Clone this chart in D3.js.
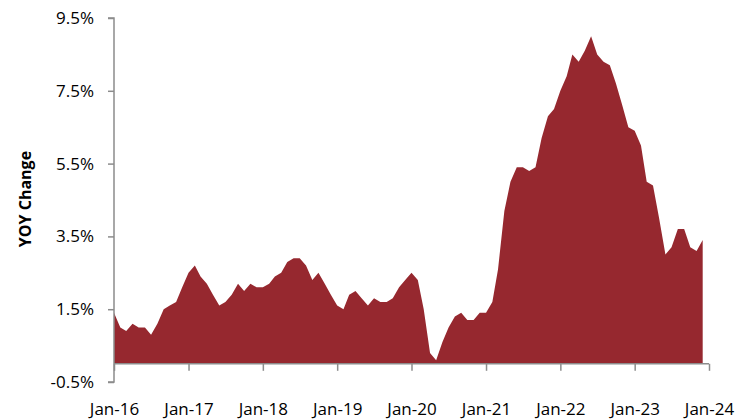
<!DOCTYPE html>
<html>
<head>
<meta charset="utf-8">
<script src="https://cdn.jsdelivr.net/npm/d3@7"></script>
<style>
  body { margin: 0; background: #fff; }
  text { font-family: "Open Sans", sans-serif; fill: #000; }
</style>
</head>
<body>
<svg id="chart" width="738" height="420"></svg>
<script>
// US CPI, year-over-year % change, monthly Jan-16 .. Dec-23
var startMonth = "2016-01";
var cpiYoy = [
  1.4, 1.0, 0.9, 1.1, 1.0, 1.0, 0.8, 1.1, 1.5, 1.6, 1.7, 2.1,
  2.5, 2.7, 2.4, 2.2, 1.9, 1.6, 1.7, 1.9, 2.2, 2.0, 2.2, 2.1,
  2.1, 2.2, 2.4, 2.5, 2.8, 2.9, 2.9, 2.7, 2.3, 2.5, 2.2, 1.9,
  1.6, 1.5, 1.9, 2.0, 1.8, 1.6, 1.8, 1.7, 1.7, 1.8, 2.1, 2.3,
  2.5, 2.3, 1.5, 0.3, 0.1, 0.6, 1.0, 1.3, 1.4, 1.2, 1.2, 1.4,
  1.4, 1.7, 2.6, 4.2, 5.0, 5.4, 5.4, 5.3, 5.4, 6.2, 6.8, 7.0,
  7.5, 7.9, 8.5, 8.3, 8.6, 9.0, 8.5, 8.3, 8.2, 7.7, 7.1, 6.5,
  6.4, 6.0, 5.0, 4.9, 4.0, 3.0, 3.2, 3.7, 3.7, 3.2, 3.1, 3.4
];
var xTickLabels = ["Jan-16","Jan-17","Jan-18","Jan-19","Jan-20","Jan-21","Jan-22","Jan-23","Jan-24"];
var yTicks = [-0.5, 1.5, 3.5, 5.5, 7.5, 9.5];

var svg = d3.select("#chart");
var axisColor = "#8c8c8c";
var fillColor = "#96282f";

var parseMonth = d3.timeParse("%Y-%m");
var t0 = parseMonth(startMonth);
var data = cpiYoy.map(function(v, i) { return {date: d3.timeMonth.offset(t0, i), value: v}; });

var x = d3.scaleTime()
    .domain([t0, d3.timeMonth.offset(t0, 96)])
    .range([114, 709]);

var y = d3.scaleLinear()
    .domain([-0.5, 9.5])
    .range([382, 18]);

// area from the zero line
var area = d3.area()
    .x(function(d) { return x(d.date); })
    .y0(y(0))
    .y1(function(d) { return y(d.value); });

svg.append("path")
    .datum(data)
    .attr("d", area)
    .style("fill", fillColor);

// y axis
var yAxis = svg.append("g")
    .attr("transform", "translate(114,0)")
    .call(d3.axisLeft(y).tickValues(yTicks).tickSize(6).tickPadding(14)
      .tickFormat(function(d) { return d.toFixed(1) + "%"; }));
yAxis.select(".domain").attr("stroke", axisColor).attr("stroke-width", 1.5)
    .attr("d", "M-6," + y(9.5) + "H0V" + y(-0.5) + "H-6");
yAxis.selectAll(".tick line").attr("stroke", axisColor).attr("stroke-width", 1.5);
yAxis.selectAll(".tick text").style("font-size", "17px").style("font-family", "'Open Sans', sans-serif");

// x axis on the zero line
var xTickDates = xTickLabels.map(function(s, i) { return d3.timeYear.offset(t0, i); });
var xAxis = svg.append("g")
    .attr("transform", "translate(0," + y(0) + ")")
    .call(d3.axisBottom(x).tickValues(xTickDates).tickSize(7).tickPadding(32)
      .tickFormat(function(d, i) { return xTickLabels[i]; }));
xAxis.select(".domain").attr("stroke", axisColor).attr("stroke-width", 1.5)
    .attr("d", "M" + x.range()[0] + ",0H" + x.range()[1]);
xAxis.selectAll(".tick line").attr("stroke", axisColor).attr("stroke-width", 1.5);
xAxis.selectAll(".tick text").style("font-size", "17px").style("font-family", "'Open Sans', sans-serif");

// axis title
svg.append("text")
    .attr("transform", "translate(31,199) rotate(-90)")
    .attr("text-anchor", "middle")
    .style("font-size", "16px")
    .style("font-weight", "bold")
    .text("YOY Change");
</script>
</body>
</html>
